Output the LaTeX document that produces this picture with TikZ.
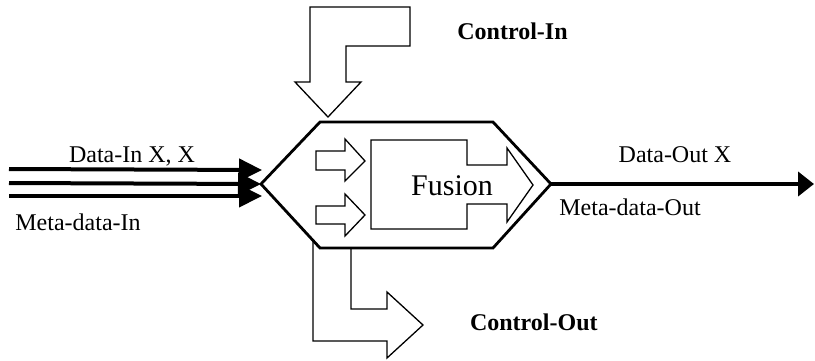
\documentclass[tikz,border=0pt]{standalone}
\usepackage{fontspec}
\setmainfont{Liberation Serif}
\usetikzlibrary{arrows.meta, positioning}

\begin{document}
\begin{tikzpicture}[x=0.5pt, y=-0.5pt,
    blockarrow/.style={draw, line width=0.65pt, line join=miter, fill=white},
    dataline/.style={line width=2pt, -{Triangle[length=11.5pt, width=11pt]}},
    outline/.style={line width=2pt, -{Triangle[length=8pt, width=12pt]}},
    lbl/.style={font=\fontsize{12}{14}\selectfont, inner sep=0pt},
    ctrllbl/.style={font=\fontsize{12}{14}\selectfont\bfseries, inner sep=0pt}]
  \useasboundingbox (0,0) rectangle (815,360);

  % fusion hexagon
  \coordinate (hexL) at (261,184);
  \coordinate (hexTL) at (320,122);
  \coordinate (hexTR) at (493,122);
  \coordinate (hexR) at (551,184);
  \coordinate (hexBR) at (493,248);
  \coordinate (hexBL) at (320,248);
  \draw[line width=1.4pt, line join=miter] (hexL) -- (hexTL) -- (hexTR) -- (hexR) -- (hexBR) -- (hexBL) -- cycle;

  % control in / out
  \draw[blockarrow] (310,7) -- (410,7) -- (410,46) -- (346,46) -- (346,82) -- (361,82)
    -- (328,117) -- (295,82) -- (310,82) -- cycle;
  \draw[blockarrow, fill=none] (313,241) -- (313,341) -- (387,341) -- (387,358) -- (423,325)
    -- (387,292) -- (387,309) -- (351,309) -- (351,248);

  % inside
  \draw[blockarrow] (316,151) -- (345,151) -- (345,139) -- (365,161) -- (345,181) -- (345,170) -- (316,170) -- cycle;
  \draw[blockarrow] (316,206) -- (345,206) -- (345,194) -- (365,215) -- (345,236) -- (345,224) -- (316,224) -- cycle;
  \draw[blockarrow] (371,140) -- (467,140) -- (467,165) -- (507,165) -- (507,148) -- (533,185)
    -- (507,222) -- (507,204) -- (467,204) -- (467,229) -- (371,229) -- cycle;
  \node[font=\fontsize{15}{18}\selectfont, inner sep=0pt, anchor=base] (fusion) at (452,195) {Fusion};

  % data in
  \coordinate (inA) at (9,169);
  \coordinate (inB) at (9,183);
  \coordinate (inC) at (9,196);
  \coordinate (tipA) at (262,170);
  \coordinate (tipC) at (262,196);
  \draw[dataline] (inA) -- (tipA);
  \draw[dataline] (inB) -- (hexL);
  \draw[dataline] (inC) -- (tipC);

  % data out
  \coordinate (outEnd) at (814,184);
  \draw[outline] (hexR) -- (outEnd);

  % labels
  \node[lbl, anchor=base] (dataIn) at (132,162) {Data-In X, X};
  \node[lbl, anchor=base west] (metaIn) at (15,230) {Meta-data-In};
  \node[lbl, anchor=base] (dataOut) at (675,162) {Data-Out X};
  \node[lbl, anchor=base west] (metaOut) at (559,215) {Meta-data-Out};
  \node[ctrllbl, anchor=base west] (ctrlIn) at (457,39) {Control-In};
  \node[ctrllbl, anchor=base east] (ctrlOut) at (598,330) {Control-Out};
\end{tikzpicture}
\end{document}
